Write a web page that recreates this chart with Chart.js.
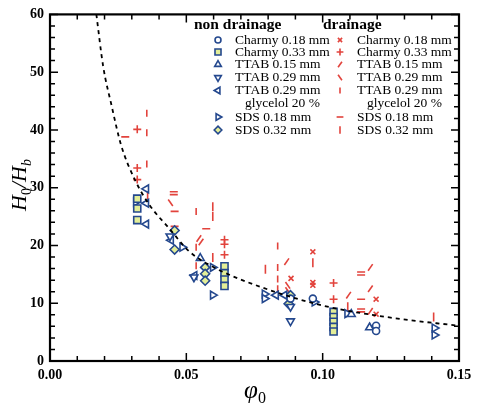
<!DOCTYPE html>
<html>
<head>
<meta charset="utf-8">
<script src="https://cdn.jsdelivr.net/npm/chart.js@4/dist/chart.umd.min.js"></script>
<style>
  html, body { margin: 0; padding: 0; background: #fff; }
  #wrap { width: 480px; height: 407px; }
</style>
</head>
<body>
<div id="wrap"><canvas id="chart1"></canvas></div>
<script>
// axes
const xTicks = [0, 0.05, 0.10, 0.15];
const yTicks = [0, 10, 20, 30, 40, 50, 60];

// dashed fit curve
const curvePhi = [0.0170, 0.0195, 0.0225, 0.026, 0.031, 0.0365, 0.044, 0.051, 0.061, 0.078, 0.100, 0.125, 0.150];
const curveH   = [60, 51, 44.4, 37.5, 31.5, 27.0, 22.8, 19.0, 16.0, 12.7, 9.6, 7.5, 6.1];

// non drainage
const ndCharmy18Phi = [0.0964, 0.0882, 0.1196, 0.1196];
const ndCharmy18H   = [10.8, 10.8, 6.1, 5.2];
const ndCharmy33Phi = [0.032, 0.032, 0.032, 0.064, 0.064, 0.064, 0.064, 0.104, 0.104, 0.104, 0.104, 0.104];
const ndCharmy33H   = [28.1, 26.4, 24.4, 16.4, 15.2, 14.1, 13.0, 8.5, 7.6, 6.8, 5.9, 5.1];
const ndTtab15Phi = [0.0551, 0.1105, 0.1172];
const ndTtab15H   = [17.8, 8.1, 5.8];
const ndTtab29Phi = [0.0440, 0.0528, 0.0882, 0.0882];
const ndTtab29H   = [21.6, 14.5, 9.4, 6.9];
const ndTtabGlyPhi = [0.0353, 0.0353, 0.0353, 0.0444, 0.0530, 0.0829, 0.0860];
const ndTtabGlyH   = [29.8, 27.3, 23.7, 20.9, 14.8, 11.4, 11.4];
const ndSds18Phi = [0.0315, 0.0485, 0.0597, 0.0597, 0.0787, 0.0787, 0.0970, 0.1090, 0.1410, 0.1410];
const ndSds18H   = [27.5, 19.7, 16.2, 11.4, 11.6, 10.8, 10.2, 8.2, 5.7, 4.5];
const ndSds32Phi = [0.0457, 0.0457, 0.0569, 0.0569, 0.0569, 0.0882, 0.0875];
const ndSds32H   = [22.6, 19.3, 16.2, 15.1, 13.9, 11.4, 9.9];

// drainage
const drCharmy18Phi = [0.0884, 0.0964, 0.0964, 0.0964, 0.1196, 0.1196];
const drCharmy18H   = [14.3, 18.9, 13.6, 13.1, 10.7, 8.1];
const drCharmy33Phi = [0.032, 0.032, 0.032, 0.064, 0.064, 0.064, 0.104, 0.104];
const drCharmy33H   = [40.1, 33.4, 31.4, 21.0, 20.2, 18.4, 13.5, 10.7];
const drTtab15Phi = [0.0546, 0.0554, 0.0868, 0.1175, 0.1175, 0.1095, 0.1175];
const drTtab15H   = [21.2, 20.6, 17.2, 16.2, 12.5, 11.4, 8.6];
const drTtab29Phi = [0.0442, 0.0872, 0.0872];
const drTtab29H   = [27.4, 13.1, 12.2];
const drTtabGlyPhi = [0.0355, 0.0355, 0.0355, 0.0536, 0.0536, 0.0536, 0.0835, 0.0835, 0.0835, 0.0835];
const drTtabGlyH   = [42.9, 39.5, 34.1, 25.9, 19.7, 16.5, 19.9, 16.2, 14.2, 12.5];
const drSds18Phi = [0.0276, 0.0454, 0.0454, 0.0457, 0.0457, 0.0573, 0.1141, 0.1141, 0.1141, 0.1141, 0.1141];
const drSds18H   = [38.8, 29.3, 28.8, 25.9, 23.3, 22.9, 15.4, 14.9, 10.7, 9.0, 8.5];
const drSds32Phi = [0.0358, 0.0597, 0.0597, 0.0597, 0.0790, 0.0964, 0.1092, 0.1407];
const drSds32H   = [28.8, 26.7, 25.0, 17.9, 15.9, 17.0, 9.4, 7.6];

const BLUE = '#24488e';
const RED = '#e2433c';
const YEL = '#e3ee98';
const SERIF = '"Liberation Serif", "DejaVu Serif", serif';

function pts(xs, ys) {
    return xs.map((x, i) => ({ x: x, y: ys[i] }));
}

// marker styles for each series (legend uses the same)
const ndStyles = [
    { label: 'Charmy 0.18 mm', xs: ndCharmy18Phi, ys: ndCharmy18H, pointStyle: 'circle', radius: 3.5, rotation: 0, fill: '#fff' },
    { label: 'Charmy 0.33 mm', xs: ndCharmy33Phi, ys: ndCharmy33H, pointStyle: 'rect', radius: 5, rotation: 0, fill: YEL },
    { label: 'TTAB 0.15 mm', xs: ndTtab15Phi, ys: ndTtab15H, pointStyle: 'triangle', radius: 4.5, rotation: 0, fill: '#fff' },
    { label: 'TTAB 0.29 mm', xs: ndTtab29Phi, ys: ndTtab29H, pointStyle: 'triangle', radius: 4.5, rotation: 180, fill: '#fff' },
    { label: 'TTAB 0.29 mm', sub: 'glycelol 20 %', xs: ndTtabGlyPhi, ys: ndTtabGlyH, pointStyle: 'triangle', radius: 4.5, rotation: 270, fill: '#fff' },
    { label: 'SDS 0.18 mm', xs: ndSds18Phi, ys: ndSds18H, pointStyle: 'triangle', radius: 4.5, rotation: 90, fill: '#fff' },
    { label: 'SDS 0.32 mm', xs: ndSds32Phi, ys: ndSds32H, pointStyle: 'rectRot', radius: 4.5, rotation: 0, fill: YEL },
];
const drStyles = [
    { label: 'Charmy 0.18 mm', xs: drCharmy18Phi, ys: drCharmy18H, pointStyle: 'crossRot', radius: 3.5, rotation: 0 },
    { label: 'Charmy 0.33 mm', xs: drCharmy33Phi, ys: drCharmy33H, pointStyle: 'cross', radius: 4, rotation: 0 },
    { label: 'TTAB 0.15 mm', xs: drTtab15Phi, ys: drTtab15H, pointStyle: 'line', radius: 4, rotation: -55 },
    { label: 'TTAB 0.29 mm', xs: drTtab29Phi, ys: drTtab29H, pointStyle: 'line', radius: 4, rotation: 55 },
    { label: 'TTAB 0.29 mm', sub: 'glycelol 20 %', xs: drTtabGlyPhi, ys: drTtabGlyH, pointStyle: 'line', radius: 3.5, rotation: 90 },
    { label: 'SDS 0.18 mm', xs: drSds18Phi, ys: drSds18H, pointStyle: 'line', radius: 4, rotation: 0 },
    { label: 'SDS 0.32 mm', xs: drSds32Phi, ys: drSds32H, pointStyle: 'line', radius: 4.5, rotation: 90 },
];

const datasets = [];
datasets.push({
    label: 'fit',
    data: pts(curvePhi, curveH),
    showLine: true,
    borderColor: '#000',
    borderWidth: 1.8,
    borderDash: [4, 4],
    pointRadius: 0,
    cubicInterpolationMode: 'monotone',
});
ndStyles.forEach((s) => {
    datasets.push({
        label: 'nd ' + s.label,
        data: pts(s.xs, s.ys),
        pointStyle: s.pointStyle,
        pointRadius: s.radius,
        pointRotation: s.rotation,
        backgroundColor: s.fill,
        borderColor: BLUE,
        borderWidth: 1.6,
    });
});
drStyles.forEach((s) => {
    datasets.push({
        label: 'dr ' + s.label,
        data: pts(s.xs, s.ys),
        pointStyle: s.pointStyle,
        pointRadius: s.radius,
        pointRotation: s.rotation,
        backgroundColor: RED,
        borderColor: RED,
        borderWidth: 1.6,
    });
});

// frame with inward major/minor ticks on all four sides
const framePlugin = {
    id: 'frame',
    afterDraw(chart) {
        const ctx = chart.ctx;
        const a = chart.chartArea;
        const xs = chart.scales.x, ys = chart.scales.y;
        ctx.save();
        ctx.strokeStyle = '#000';
        ctx.lineWidth = 1.5;
        ctx.beginPath();
        for (let i = 0; i <= 15; i++) {
            const px = xs.getPixelForValue(i * 0.01);
            const len = i % 5 === 0 ? 8 : 5;
            ctx.moveTo(px, a.bottom); ctx.lineTo(px, a.bottom - len);
            ctx.moveTo(px, a.top); ctx.lineTo(px, a.top + len);
        }
        for (let v = 0; v <= 60; v += 2) {
            const py = ys.getPixelForValue(v);
            const len = v % 10 === 0 ? 8 : 5;
            ctx.moveTo(a.left, py); ctx.lineTo(a.left + len, py);
            ctx.moveTo(a.right, py); ctx.lineTo(a.right - len, py);
        }
        ctx.stroke();
        ctx.lineWidth = 2.2;
        ctx.strokeRect(a.left, a.top, a.right - a.left, a.bottom - a.top);
        ctx.restore();
    },
};

// axis titles with sub-scripts
const titlePlugin = {
    id: 'titles',
    afterDraw(chart) {
        const ctx = chart.ctx;
        ctx.save();
        ctx.fillStyle = '#000';
        ctx.textBaseline = 'alphabetic';
        // x title: phi_0
        const big = 'italic 25px ' + SERIF;
        const small = '16px ' + SERIF;
        ctx.font = big;
        const wPhi = ctx.measureText('\u03c6').width;
        ctx.font = small;
        const w0 = ctx.measureText('0').width;
        let x = 255 - (wPhi + w0) / 2;
        ctx.font = big; ctx.fillText('\u03c6', x, 398);
        ctx.font = small; ctx.fillText('0', x + wPhi, 403);

        // y title: H_0/H_b, rotated
        const parts = [
            ['H', 'italic 22px ' + SERIF, 0],
            ['0', '14px ' + SERIF, 5],
            ['/', 'italic 22px ' + SERIF, 0],
            ['H', 'italic 22px ' + SERIF, 0],
            ['b', 'italic 14px ' + SERIF, 5],
        ];
        let total = 0;
        parts.forEach((p) => { ctx.font = p[1]; p.push(ctx.measureText(p[0]).width); total += p[3]; });
        ctx.translate(26, 185);
        ctx.rotate(-Math.PI / 2);
        let cx = -total / 2;
        parts.forEach((p) => {
            ctx.font = p[1];
            ctx.fillText(p[0], cx, p[2]);
            cx += p[3];
        });
        ctx.restore();
    },
};

// two column legend inside the plot
const legendPlugin = {
    id: 'legendCols',
    afterDraw(chart) {
        const ctx = chart.ctx;
        const rows = [40, 52, 64.5, 77.5, 90.5, 117, 130];
        ctx.save();
        ctx.fillStyle = '#000';
        ctx.textBaseline = 'middle';
        ctx.font = 'bold 15.5px ' + SERIF;
        ctx.fillText('non drainage', 194, 25);
        ctx.fillText('drainage', 323, 25);
        const cols = [
            { styles: ndStyles, mx: 218, tx: 235, color: BLUE, bw: 1.6 },
            { styles: drStyles, mx: 340, tx: 357, color: RED, bw: 1.6 },
        ];
        cols.forEach((c) => {
            c.styles.forEach((s, i) => {
                ctx.save();
                ctx.strokeStyle = c.color;
                ctx.fillStyle = s.fill || c.color;
                ctx.lineWidth = c.bw;
                Chart.helpers.drawPoint(ctx, {
                    pointStyle: s.pointStyle,
                    radius: s.radius * 0.85,
                    rotation: s.rotation,
                    borderWidth: c.bw,
                }, c.mx, rows[i]);
                ctx.restore();
                ctx.font = '13.5px ' + SERIF;
                ctx.fillStyle = '#000';
                ctx.fillText(s.label, c.tx, rows[i]);
                if (s.sub) ctx.fillText(s.sub, c.tx + 10, 103.5);
            });
        });
        ctx.restore();
    },
};

const boldTicks = { family: SERIF, size: 14, weight: 'bold' };

new Chart(document.getElementById('chart1').getContext('2d'), {
    type: 'scatter',
    data: { datasets: datasets },
    options: {
        responsive: true,
        maintainAspectRatio: false,
        animation: false,
        layout: { padding: { top: 10, right: 21, left: 0, bottom: 0 } },
        plugins: { legend: { display: false }, tooltip: { enabled: false } },
        scales: {
            x: {
                type: 'linear',
                min: 0,
                max: 0.15,
                afterBuildTicks: (s) => { s.ticks = xTicks.map((v) => ({ value: v })); },
                afterFit: (s) => { s.height = 46; },
                grid: { display: false, drawTicks: false },
                border: { display: false },
                ticks: {
                    color: '#000',
                    font: boldTicks,
                    padding: 6,
                    maxRotation: 0,
                    callback: (v) => Number(v).toFixed(2),
                },
            },
            y: {
                type: 'linear',
                min: 0,
                max: 60,
                afterBuildTicks: (s) => { s.ticks = yTicks.map((v) => ({ value: v })); },
                afterFit: (s) => { s.width = 50; },
                grid: { display: false, drawTicks: false },
                border: { display: false },
                ticks: { color: '#000', font: boldTicks, padding: 6 },
            },
        },
    },
    plugins: [framePlugin, titlePlugin, legendPlugin],
});
</script>
</body>
</html>
